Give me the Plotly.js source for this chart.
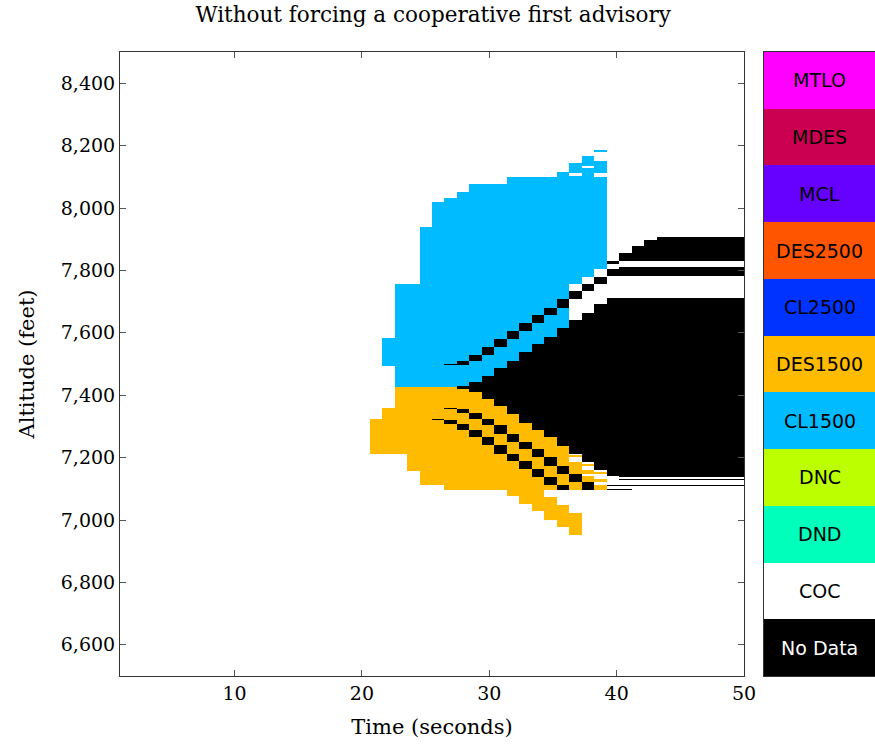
<!DOCTYPE html>
<html>
<head>
<meta charset="utf-8">
<script src="https://cdn.plot.ly/plotly-3.0.1.min.js"></script>
<style>
  html, body { margin: 0; padding: 0; background: #fff; }
  #chart { width: 875px; height: 744px; }
</style>
</head>
<body>
<div id="chart"></div>
<script>
// ---------------- data ----------------
// column edges of the time grid (seconds)
const timeEdges = [1.00, 1.98, 2.96, 3.94, 4.92, 5.90, 6.88, 7.86, 8.84, 9.82,
  10.80, 11.78, 12.76, 13.74, 14.72, 15.70, 16.68, 17.66, 18.64, 19.62,
  20.60, 21.58, 22.56, 23.54, 24.52, 25.50, 26.48, 27.46, 28.44, 29.42,
  30.40, 31.38, 32.36, 33.34, 34.32, 35.30, 36.28, 37.26, 38.24, 39.22,
  40.20, 41.18, 42.16, 43.14, 44.12, 45.10, 46.08, 47.06, 48.04, 49.02, 50.00];

// advisory categories (index = value in the matrix), bottom to top in the legend bar
const categories = ['No Data', 'COC', 'DND', 'DNC', 'CL1500', 'DES1500', 'CL2500', 'DES2500', 'MCL', 'MDES', 'MTLO'];
const catColors  = ['#000000', '#ffffff', '#00ffbb', '#bbff00', '#00bbff', '#ffbb00', '#0033ff', '#ff5500', '#6600ff', '#cc0050', '#ff00ff'];
const labelColors = ['#ffffff', '#000000', '#000000', '#000000', '#000000', '#000000', '#000000', '#000000', '#000000', '#000000', '#000000'];

// cells: [time column, altitude low, altitude high] (feet); everything else is COC
const cl1500Cells = [
  [21, 7495, 7582], [22, 7425, 7755], [23, 7425, 7755], [24, 7425, 7938], [25, 7425, 8018],
  [26, 7425, 8031], [27, 7425, 8050], [28, 7441, 8076], [29, 7463, 8076], [30, 7486, 8076],
  [31, 7511, 8098], [32, 7537, 8098], [33, 7563, 8098], [34, 7585, 8098], [35, 7614, 8114],
  [36, 7755, 8102], [36, 8111, 8143], [37, 7778, 8127], [37, 8134, 8166],
  [38, 7803, 8098], [38, 8111, 8150], [38, 8179, 8185]
];
const des1500Cells = [
  [20, 7213, 7325], [21, 7213, 7360], [22, 7210, 7425], [23, 7158, 7425], [24, 7113, 7425],
  [25, 7113, 7425], [26, 7097, 7425], [27, 7097, 7425], [28, 7097, 7441], [29, 7097, 7389],
  [30, 7097, 7367], [31, 7078, 7341], [32, 7052, 7312], [33, 7030, 7290],
  [34, 7097, 7267], [34, 7001, 7075], [35, 7097, 7238], [35, 6979, 7049],
  [36, 7203, 7207], [36, 7097, 7187], [36, 6953, 7024],
  [37, 7174, 7178], [37, 7149, 7161], [37, 7123, 7142],
  [38, 7149, 7155], [38, 7123, 7133], [38, 7097, 7113]
];
const noDataCells = [
  [25, 7322, 7325],
  [26, 7496, 7499], [26, 7357, 7360], [26, 7309, 7322],
  [27, 7498, 7511], [27, 7421, 7431], [27, 7344, 7357], [27, 7290, 7309],
  [28, 7511, 7530], [28, 7409, 7441], [28, 7325, 7344], [28, 7267, 7290],
  [29, 7530, 7553], [29, 7389, 7463], [29, 7303, 7325], [29, 7242, 7267],
  [30, 7553, 7579], [30, 7367, 7486], [30, 7277, 7303], [30, 7213, 7242],
  [31, 7579, 7607], [31, 7341, 7511], [31, 7251, 7277], [31, 7190, 7213],
  [32, 7607, 7630], [32, 7312, 7537], [32, 7226, 7251], [32, 7165, 7190],
  [33, 7630, 7656], [33, 7290, 7563], [33, 7203, 7226], [33, 7139, 7165],
  [34, 7656, 7681], [34, 7267, 7585], [34, 7174, 7203], [34, 7113, 7139],
  [35, 7681, 7707], [35, 7238, 7614], [35, 7149, 7174], [35, 7097, 7113],
  [36, 7707, 7733], [36, 7213, 7640], [36, 7123, 7149],
  [37, 7733, 7758], [37, 7187, 7665], [37, 7097, 7123],
  [38, 7758, 7778], [38, 7161, 7691],
  [39, 7822, 7829], [39, 7781, 7803], [39, 7142, 7710], [39, 7130, 7133], [39, 7110, 7113], [39, 7097, 7100],
  [40, 7829, 7855], [40, 7781, 7810], [40, 7139, 7713], [40, 7128, 7131], [40, 7110, 7113], [40, 7097, 7100],
  [41, 7829, 7877], [41, 7781, 7810], [41, 7139, 7713], [41, 7128, 7131], [41, 7110, 7113],
  [42, 7829, 7899], [42, 7781, 7810], [42, 7139, 7713], [42, 7128, 7131], [42, 7110, 7113],
  [43, 7829, 7906], [43, 7781, 7810], [43, 7139, 7713], [43, 7128, 7131], [43, 7110, 7113],
  [44, 7829, 7906], [44, 7781, 7810], [44, 7139, 7713], [44, 7128, 7131], [44, 7110, 7113],
  [45, 7829, 7906], [45, 7781, 7810], [45, 7139, 7713], [45, 7128, 7131], [45, 7110, 7113],
  [46, 7829, 7906], [46, 7781, 7810], [46, 7139, 7713], [46, 7128, 7131], [46, 7110, 7113],
  [47, 7829, 7906], [47, 7781, 7810], [47, 7139, 7713], [47, 7128, 7131], [47, 7110, 7113],
  [48, 7829, 7906], [48, 7781, 7810], [48, 7139, 7713], [48, 7128, 7131], [48, 7110, 7113],
  [49, 7829, 7906], [49, 7781, 7810], [49, 7139, 7713], [49, 7128, 7131], [49, 7110, 7113]
];

const altRange = [6500, 8500];
const altTicks = [6600, 6800, 7000, 7200, 7400, 7600, 7800, 8000, 8200, 8400];
const timeTicks = [10, 20, 30, 40, 50];

// ---------------- build matrix ----------------
const layers = [[4, cl1500Cells], [5, des1500Cells], [0, noDataCells]];
const edgeSet = new Set(altRange);
layers.forEach(([c, cells]) => cells.forEach(s => { edgeSet.add(s[1]); edgeSet.add(s[2]); }));
const yEdges = Array.from(edgeSet).sort((a, b) => a - b);
const nCols = timeEdges.length - 1;
const z = [];
for (let r = 0; r < yEdges.length - 1; r++) {
  const mid = (yEdges[r] + yEdges[r + 1]) / 2;
  const row = new Array(nCols).fill(1);
  layers.forEach(([c, cells]) => cells.forEach(s => {
    if (mid > s[1] && mid < s[2]) row[s[0]] = c;
  }));
  z.push(row);
}

const n = categories.length;
const colorscale = [];
catColors.forEach((col, i) => { colorscale.push([i / n, col]); colorscale.push([(i + 1) / n, col]); });

const serif = 'DejaVu Serif, serif';
const sans = 'DejaVu Sans, sans-serif';

const main = {
  type: 'heatmap', x: timeEdges, y: yEdges, z: z,
  colorscale: colorscale, zmin: -0.5, zmax: n - 0.5, showscale: false,
  zsmooth: false, hoverinfo: 'skip', xaxis: 'x', yaxis: 'y'
};
const legendBar = {
  type: 'heatmap', x: [0, 1], y: categories.map((c, i) => i),
  z: categories.map((c, i) => [i]),
  colorscale: colorscale, zmin: -0.5, zmax: n - 0.5, showscale: false,
  hoverinfo: 'skip', xaxis: 'x2', yaxis: 'y2'
};

const annotations = categories.map((c, i) => ({
  xref: 'x2', yref: 'y2', x: 0.5, y: i, text: c, showarrow: false,
  font: { family: sans, size: 19, color: labelColors[i] }
}));

const axisCommon = {
  showline: true, linecolor: '#333', linewidth: 1, mirror: 'ticks',
  ticks: 'inside', ticklen: 6, tickcolor: '#555', tickwidth: 1,
  showgrid: false, zeroline: false,
  tickfont: { family: serif, size: 19, color: '#000' }
};

const layout = {
  width: 875, height: 744,
  margin: { l: 120, r: 0, t: 52, b: 68 },
  paper_bgcolor: '#fff', plot_bgcolor: '#fff',
  title: { text: 'Without forcing a cooperative first advisory', xref: 'container', yref: 'container',
           x: 0.495, xanchor: 'center', y: 0.981, yanchor: 'middle',
           font: { family: serif, size: 21.5, color: '#000' } },
  xaxis: Object.assign({}, axisCommon, {
    domain: [0, 624 / 755], range: [1, 50], tickvals: timeTicks,
    title: { text: 'Time (seconds)', font: { family: serif, size: 21, color: '#000' }, standoff: 16 }
  }),
  yaxis: Object.assign({}, axisCommon, {
    domain: [0, 1], range: altRange, tickvals: altTicks, tickformat: ',d',
    title: { text: 'Altitude (feet)', font: { family: serif, size: 21, color: '#000' }, standoff: 20 }
  }),
  xaxis2: { domain: [644 / 755, 1], range: [0, 1], showticklabels: false, ticks: '', showgrid: false,
            zeroline: false, showline: true, mirror: true, linecolor: '#333', fixedrange: true },
  yaxis2: { domain: [0, 1], range: [-0.5, n - 0.5], anchor: 'x2', showticklabels: false, ticks: '',
            showgrid: false, zeroline: false, showline: true, mirror: true, linecolor: '#333', fixedrange: true },
  annotations: annotations,
  showlegend: false
};

Plotly.newPlot('chart', [main, legendBar], layout, { staticPlot: true, displayModeBar: false });
</script>
</body>
</html>
